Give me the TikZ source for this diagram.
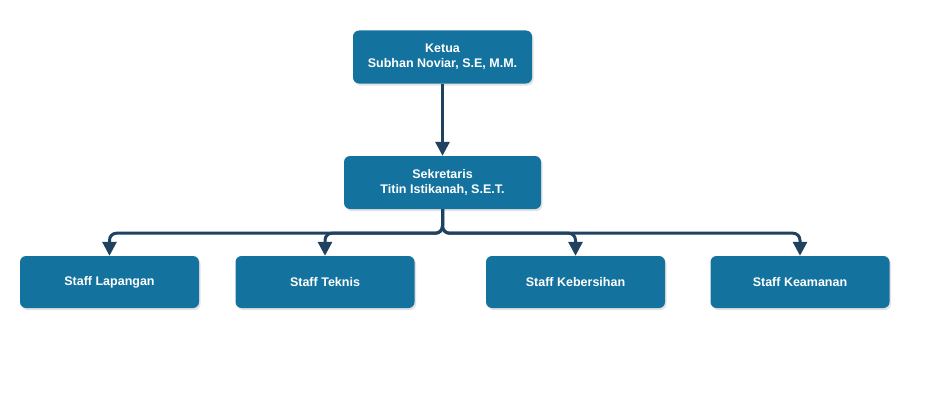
\documentclass[tikz,border=0pt]{standalone}
\usepackage{fontspec}
\setmainfont{Liberation Sans}
\usetikzlibrary{arrows.meta,shadows}
\definecolor{boxblue}{HTML}{13729E}
\definecolor{linenavy}{HTML}{1F4260}
\begin{document}
\begin{tikzpicture}[x=1pt,y=-1pt,
  orgbox/.style={fill=boxblue, rounded corners=6pt, text=white,
    font=\bfseries\fontsize{12.5}{15}\selectfont, align=center,
    minimum width=179pt, minimum height=53pt, inner sep=0pt,
    drop shadow={opacity=0.22, shadow xshift=1.5pt, shadow yshift=-2pt}},
  conn/.style={draw=linenavy, line width=3pt, rounded corners=7pt,
    -{Triangle[width=14pt,length=14pt]}}]
\useasboundingbox (0,0) rectangle (929,420);
\node[orgbox] (ketua) at (442.5,57) {Ketua\\Subhan Noviar, S.E, M.M.};
\node[orgbox, minimum width=197pt] (sek) at (442.5,182.5) {Sekretaris\\Titin Istikanah, S.E.T.};
\node[orgbox, minimum height=52pt] (s1) at (109.5,282) {Staff Lapangan};
\node[orgbox, minimum height=52pt] (s2) at (325,282) {Staff Teknis};
\node[orgbox, minimum height=52pt] (s3) at (575.5,282) {Staff Kebersihan};
\node[orgbox, minimum height=52pt] (s4) at (800,282) {Staff Keamanan};
\draw[conn] (ketua) -- (sek);
\foreach \s in {s1,s2,s3,s4}
  \draw[conn] (sek.south) -- ++(0,24) -| (\s.north);
\end{tikzpicture}
\end{document}
